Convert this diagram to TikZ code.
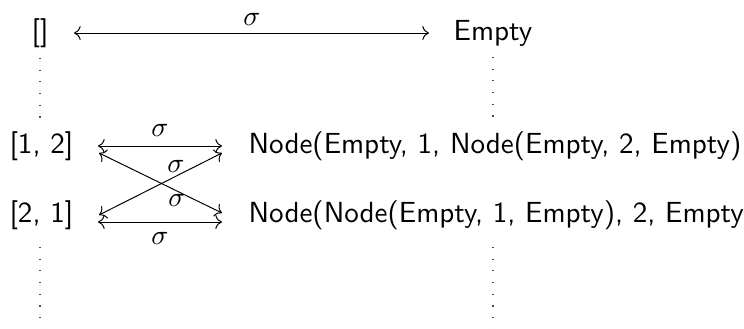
\documentclass[tikz,border=0pt]{standalone}
\usetikzlibrary{arrows.meta}
\begin{document}
\begin{tikzpicture}[
  x=0.3559pt, y=-0.3559pt,
  font=\sffamily\fontsize{10.35}{12}\selectfont,
  term/.style={inner sep=0pt, anchor=base},
  lbl/.style={inner sep=0pt, anchor=center},
  iso/.style={line width=0.35pt, {Computer Modern Rightarrow[]}-{Computer Modern Rightarrow[]}},
  ellip/.style={line width=0.4pt, black!70, dash pattern=on 0.4pt off 3.76pt},
]
\useasboundingbox (0,0) rectangle (744,329);

% terms
\node[term] (nil) at (40,41) {[]};
\node[term] (empty) at (493,41) {Empty};
\node[term, anchor=base west] (l12) at (9,154) {[1, 2]};
\node[term, anchor=base west] (l21) at (9,223) {[2, 1]};
\node[term, anchor=base west] (t1) at (248,154) {Node(Empty, 1, Node(Empty, 2, Empty)};
\node[term, anchor=base west] (t2) at (248,223) {Node(Node(Empty, 1, Empty), 2, Empty};

% arrow end points
\coordinate (a0) at (74,33);   \coordinate (b0) at (429,33);
\coordinate (a1) at (98,146);  \coordinate (b1) at (222,146);
\coordinate (a2) at (98,222);  \coordinate (b2) at (222,222);
\coordinate (c1) at (99,153);  \coordinate (d1) at (222,213);
\coordinate (c2) at (99,215);  \coordinate (d2) at (222,153);

% bijections
\draw[iso] (a0) -- (b0);
\draw[iso] (a1) -- (b1);
\draw[iso] (a2) -- (b2);
\draw[iso] (c1) -- (d1);
\draw[iso] (c2) -- (d2);

% labels
\node[lbl] (s0) at (252,19) {$\sigma$};
\node[lbl] (s1) at (160,130) {$\sigma$};
\node[lbl] (s2) at (176,166) {$\sigma$};
\node[lbl] (s3) at (177,200) {$\sigma$};
\node[lbl] (s4) at (160,238) {$\sigma$};

% vertical ellipses
\coordinate (v1) at (40,58);   \coordinate (v2) at (40,118);
\coordinate (w1) at (493,57);  \coordinate (w2) at (493,117);
\coordinate (v3) at (40,247);  \coordinate (v4) at (40,335);
\coordinate (w3) at (493,247); \coordinate (w4) at (493,335);
\draw[ellip] (v1) -- (v2);
\draw[ellip] (w1) -- (w2);
\draw[ellip] (v3) -- (v4);
\draw[ellip] (w3) -- (w4);
\end{tikzpicture}
\end{document}
